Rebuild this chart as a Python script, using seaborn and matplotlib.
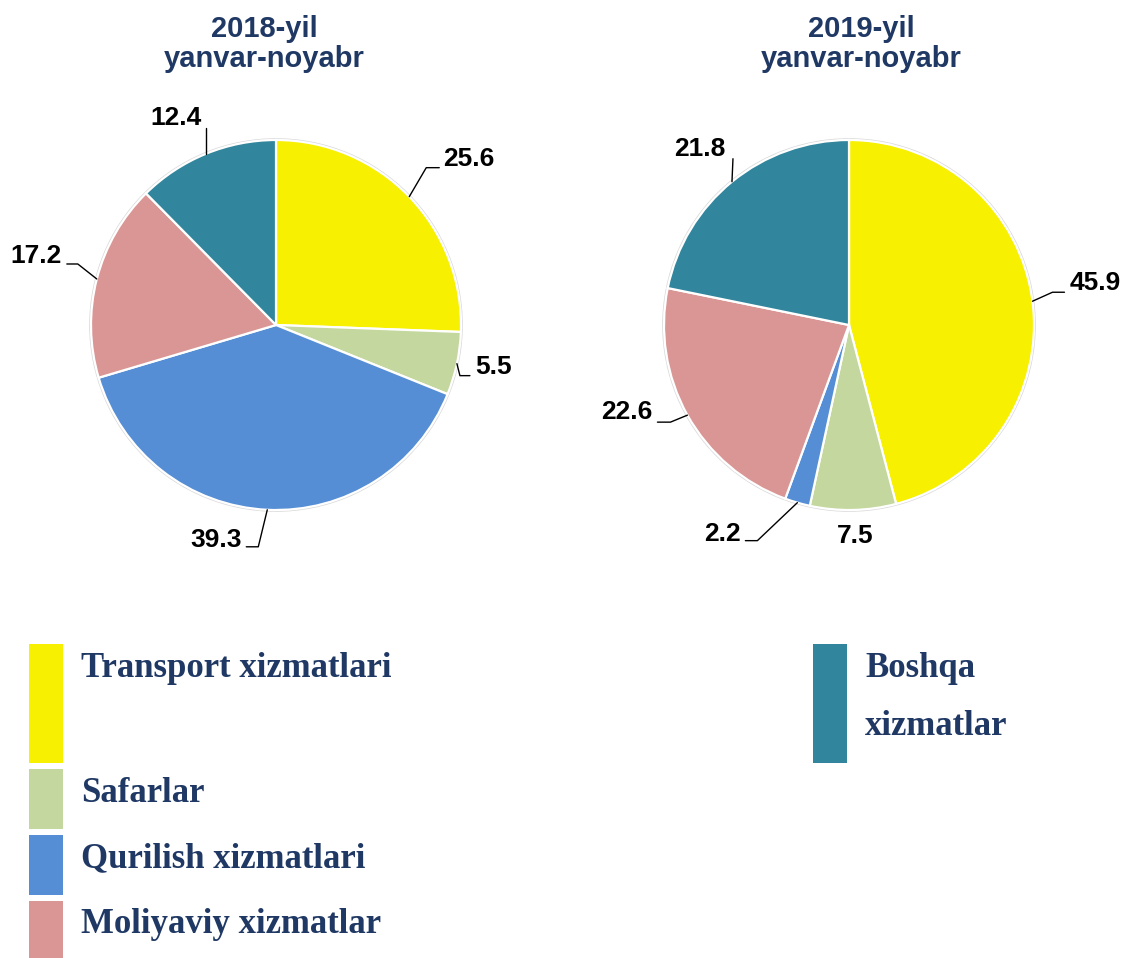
import numpy as np
import seaborn as sns
import matplotlib.pyplot as plt
from matplotlib.patches import Rectangle

# categories and values (percent shares)
categories = ["Transport xizmatlari", "Safarlar", "Qurilish xizmatlari",
              "Moliyaviy xizmatlar", "Boshqa xizmatlar"]
values_2018 = [25.6, 5.5, 39.3, 17.2, 12.4]
values_2019 = [45.9, 7.5, 2.2, 22.6, 21.8]
titles = [("2018-yil", "yanvar-noyabr"), ("2019-yil", "yanvar-noyabr")]
label_text_2018 = ["25.6", "5.5", "39.3", "17.2", "12.4"]
label_text_2019 = ["45.9", "7.5", "2.2", "22.6", "21.8"]

colors = sns.color_palette(["#F7F000", "#C4D79E", "#558ED5", "#D99694", "#31859C"])
navy = "#1F3864"

sns.set_theme(style="white")
plt.rcParams['font.family'] = ['Liberation Sans', 'DejaVu Sans']

W, H = 1125, 958
R = 185.0  # pie radius in px
fig = plt.figure(figsize=(W / 100, H / 100), dpi=100)

# label layout per pie: (elbow offset, end offset, text offset, ha) in px, y downwards
layout_2018 = [
    ((17, -29), (30, -29), (34, -38), "left"),
    ((3, 12), (13, 12), (18, 3), "left"),
    ((-9, 37), (-21, 37), (-25, 30), "right"),
    ((-19, -15), (-30, -15), (-35, -23), "right"),
    ((0, -26), (0, -26), (-4, -36), "right"),
]
layout_2019 = [
    ((20, -9), (32, -9), (37, -18), "left"),
    (None, None, (2, 26), "center"),
    ((-40, 38), (-52, 38), (-57, 31), "right"),
    ((-17, 7), (-30, 7), (-35, -3), "right"),
    ((1, -23), (1, -23), (-6, -33), "right"),
]


def draw_pie(cx, cy, vals, labels, layout, title, tx):
    half = 220
    ax = fig.add_axes([(cx - half) / W, (H - cy - half) / H, 2 * half / W, 2 * half / H])
    ax.pie(vals, colors=colors, startangle=90, counterclock=False, radius=1,
           wedgeprops=dict(edgecolor="white", linewidth=1.6))
    circ = plt.Circle((0, 0), 1.006, fill=False, edgecolor="#d9d9d9", linewidth=1.0, zorder=0)
    ax.add_patch(circ)
    lim = half / R
    ax.set_xlim(-lim, lim)
    ax.set_ylim(-lim, lim)
    ax.set_aspect("equal")
    ax.axis("off")

    cum = np.cumsum(vals) - np.array(vals) / 2
    for frac, lab, (elb, end, txt, ha) in zip(cum, labels, layout):
        ang = np.deg2rad(90 - frac * 3.6)
        ex, ey = np.cos(ang), np.sin(ang)
        if elb is not None:
            xs = [ex, ex + elb[0] / R, ex + end[0] / R]
            ys = [ey, ey - elb[1] / R, ey - end[1] / R]
            ax.plot(xs, ys, color="black", linewidth=1.0, clip_on=False)
        ax.text(ex + txt[0] / R, ey - txt[1] / R, lab, ha=ha, va="center",
                fontsize=19, fontweight="bold", color="black", clip_on=False)

    # two-line title, baselines placed separately
    for line, base in zip(title, [37, 67]):
        fig.text(tx / W, 1 - base / H, line, ha="center", va="baseline", fontsize=21,
                 fontweight="bold", color=navy)


draw_pie(276, 325, values_2018, label_text_2018, layout_2018, titles[0], 264)
draw_pie(849, 325, values_2019, label_text_2019, layout_2019, titles[1], 861)

# legend drawn as blocks with serif text
leg_boxes = [(29, 644, 763), (29, 769, 829), (29, 835, 895), (29, 901, 958), (813, 644, 763)]
leg_text = [
    [(81, 677, "Transport xizmatlari")],
    [(81, 802, "Safarlar")],
    [(81, 867, "Qurilish xizmatlari")],
    [(81, 933, "Moliyaviy xizmatlar")],
    [(865, 677, "Boshqa"), (865, 735, "xizmatlar")],
]
for color, (x0, y0, y1), texts in zip(colors, leg_boxes, leg_text):
    fig.patches.append(Rectangle((x0 / W, 1 - y1 / H), 34 / W, (y1 - y0) / H,
                                 transform=fig.transFigure, facecolor=color,
                                 edgecolor="none"))
    for x, y, t in texts:
        fig.text(x / W, 1 - y / H, t, ha="left", va="baseline", fontsize=25,
                 fontweight="bold", color=navy, family=["Liberation Serif", "DejaVu Serif"])

fig.savefig("out.png", dpi=100)
